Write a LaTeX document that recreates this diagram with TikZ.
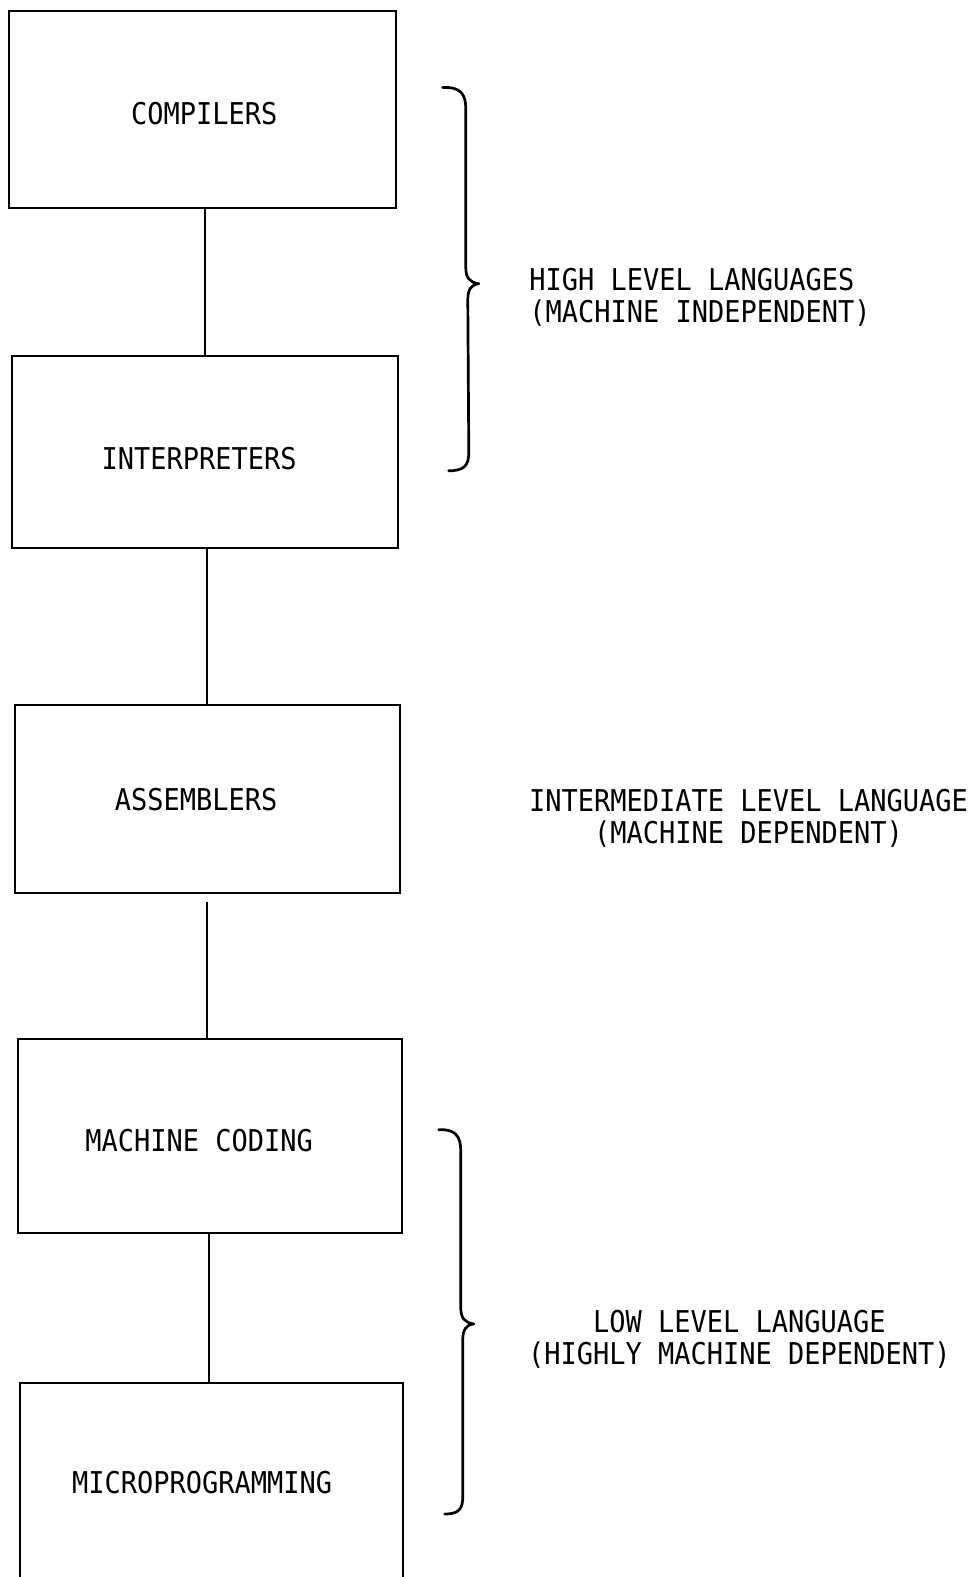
\documentclass[tikz,border=0pt]{standalone}
\usepackage{fontspec}
\newfontfamily\tw[FakeStretch=0.90]{DejaVu Sans Mono}
\begin{document}
\begin{tikzpicture}[x=1.006pt,y=-1.006pt,
  box/.style={draw,line width=2.1pt,rectangle,inner sep=0pt},
  lbl/.style={inner sep=0pt,font=\tw\fontsize{30}{32}\selectfont},
  conn/.style={line width=2.1pt},
  brc/.style={line width=2.7pt,line cap=round,line join=round}]
\useasboundingbox (0,0) rectangle (970.2,1567.6);
\clip (0,0) rectangle (970.2,1567.6);
\node[box,minimum width=387,minimum height=197] (comp) at (201.5,108.5) {};
\node[box,minimum width=386,minimum height=192] (interp) at (204,449) {};
\node[box,minimum width=385,minimum height=188] (asm) at (206.5,794) {};
\node[box,minimum width=384,minimum height=194] (mach) at (209,1129) {};
\node[box,minimum width=383,minimum height=220] (micro) at (210.5,1484) {};
\node[lbl] (compT) at (203,112.5) {COMPILERS};
\node[lbl] (interpT) at (198,456) {INTERPRETERS};
\node[lbl] (asmT) at (195,794.5) {ASSEMBLERS};
\node[lbl] (machT) at (198,1134) {MACHINE CODING};
\node[lbl] (microT) at (201,1474) {MICROPROGRAMMING};
\draw[conn] (comp.south -| 204,0) -- (interp.north -| 204,0);
\draw[conn] (interp.south -| 206,0) -- (asm.north -| 206,0);
\draw[conn] ([yshift=-8pt]asm.south -| 206,0) -- (mach.north -| 206,0);
\draw[conn] (mach.south -| 208,0) -- (micro.north -| 208,0);
\node[lbl,align=left,anchor=west] (high) at (526,296) {HIGH LEVEL LANGUAGES\\(MACHINE INDEPENDENT)};
\node[lbl,align=center] (inter) at (744,813) {INTERMEDIATE LEVEL LANGUAGE\\(MACHINE DEPENDENT)};
\node[lbl,align=center] (low) at (735,1331) {LOW LEVEL LANGUAGE\\(HIGHLY MACHINE DEPENDENT)};
\draw[brc] (440,87) .. controls (458,86) and (463,94) .. (463,108) -- (463,266)
  .. controls (463,276) and (467,281) .. (476,282)
  .. controls (468,283) and (465,288) .. (465,298) -- (466,450)
  .. controls (466,463) and (461,468) .. (446,468);
\draw[brc] (436,1123) .. controls (453,1122) and (458,1130) .. (458,1144) -- (458,1300)
  .. controls (458,1310) and (462,1315) .. (471,1316)
  .. controls (463,1317) and (460,1322) .. (460,1332) -- (460,1488)
  .. controls (460,1500) and (456,1505) .. (442,1505);
\end{tikzpicture}
\end{document}
